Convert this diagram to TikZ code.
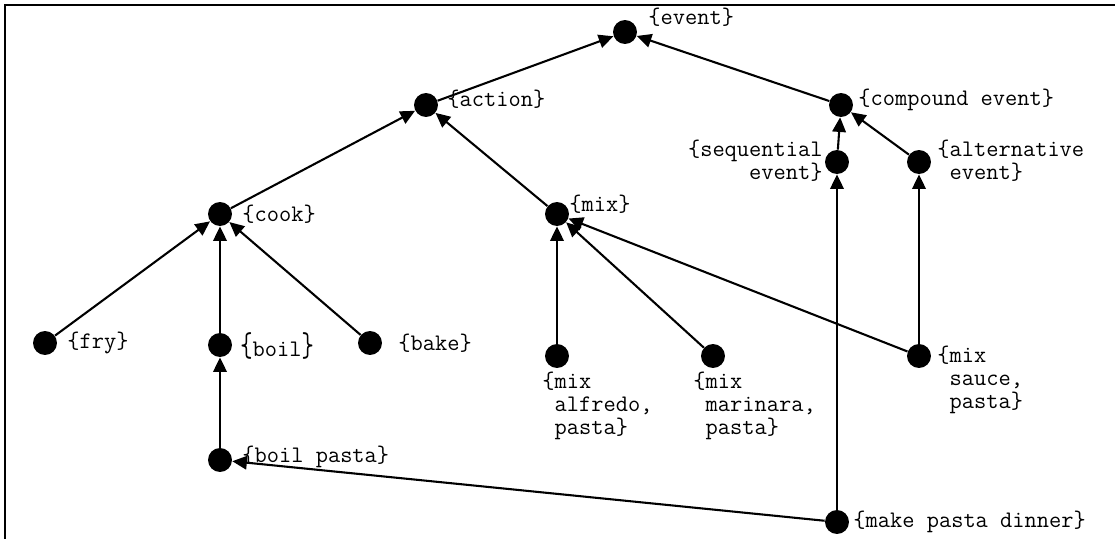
\documentclass[tikz,border=0pt]{standalone}
\usepackage{fontspec,graphicx}
\usetikzlibrary{arrows.meta}
\tikzset{>={Triangle[length=7pt,width=6.5pt]}}
\tikzset{
  ev/.style={circle,fill=black,inner sep=0pt,minimum size=11.5pt},
  lbl/.style={font=\ttfamily\fontsize{11.4}{11}\selectfont,inner sep=0pt},
  isa/.style={->,line width=1pt}
}
\newcommand{\ind}{\hphantom{\{}}
\newcommand{\tallbr}[1]{\scalebox{1}[1.45]{#1}}

\begin{document}
\begin{tikzpicture}[x=0.48pt,y=-0.48pt]
	\useasboundingbox (0,0) rectangle (1115,539);
	\draw[line width=1.1pt] (5,539) -- (5,5) -- (1115,5);

	% event nodes
	\node[ev] (event) at (625,32) {};
	\node[ev] (action) at (426,105) {};
	\node[ev] (compound) at (841,105) {};
	\node[ev] (sequential) at (837,162) {};
	\node[ev] (alternative) at (919,162) {};
	\node[ev] (cook) at (220,214) {};
	\node[ev] (mix) at (557,214) {};
	\node[ev] (fry) at (45,343) {};
	\node[ev] (boil) at (220,345) {};
	\node[ev] (bake) at (370,343) {};
	\node[ev] (mixalfredo) at (557,356) {};
	\node[ev] (mixmarinara) at (713,356) {};
	\node[ev] (mixsauce) at (919,356) {};
	\node[ev] (boilpasta) at (220,460) {};
	\node[ev] (dinner) at (837,522) {};

	% labels
	\node[lbl,anchor=west] (t-event) at (648,17) {\{event\}};
	\node[lbl,anchor=west] (t-action) at (447,99) {\{action\}};
	\node[lbl,anchor=west] (t-compound) at (858,100) {\{compound event\}};
	\node[lbl,anchor=east,align=right] (t-sequential) at (823,161) {\{sequential\\event\}};
	\node[lbl,anchor=west,align=left] (t-alternative) at (937,161) {\{alternative\\\ind event\}};
	\node[lbl,anchor=west] (t-cook) at (242,214) {\{cook\}};
	\node[lbl,anchor=west] (t-mix) at (569,204) {\{mix\}};
	\node[lbl,anchor=west] (t-fry) at (67,343) {\{fry\}};
	\node[lbl,anchor=west] (t-boil) at (240,346) {\tallbr{\{}boil\tallbr{\}}};
	\node[lbl,anchor=west] (t-bake) at (398,343) {\{bake\}};
	\node[lbl,anchor=north west,align=left] (t-mixalfredo) at (542,372) {\{mix\\\ind alfredo,\\\ind pasta\}};
	\node[lbl,anchor=north west,align=left] (t-mixmarinara) at (693,372) {\{mix\\\ind marinara,\\\ind pasta\}};
	\node[lbl,anchor=north west,align=left] (t-mixsauce) at (937,346) {\{mix\\\ind sauce,\\\ind pasta\}};
	\node[lbl,anchor=west] (t-boilpasta) at (242,457) {\{boil pasta\}};
	\node[lbl,anchor=west] (t-dinner) at (853,522) {\{make pasta dinner\}};

	% is-a links
	\draw[isa] (action) -- (event);
	\draw[isa] (compound) -- (event);
	\draw[isa] (cook) -- (action);
	\draw[isa] (mix) -- (action);
	\draw[isa] (sequential) -- (compound);
	\draw[isa] (alternative) -- (compound);
	\foreach \n in {fry,boil,bake}
	\draw[isa] (\n) -- (cook);
	\foreach \n in {mixalfredo,mixmarinara,mixsauce}
	\draw[isa] (\n) -- (mix);
	\draw[isa] (mixsauce) -- (alternative);
	\draw[isa] (boilpasta) -- (boil);
	\draw[isa] (dinner) -- (boilpasta);
	\draw[isa] (dinner) -- (sequential);
\end{tikzpicture}
\end{document}
